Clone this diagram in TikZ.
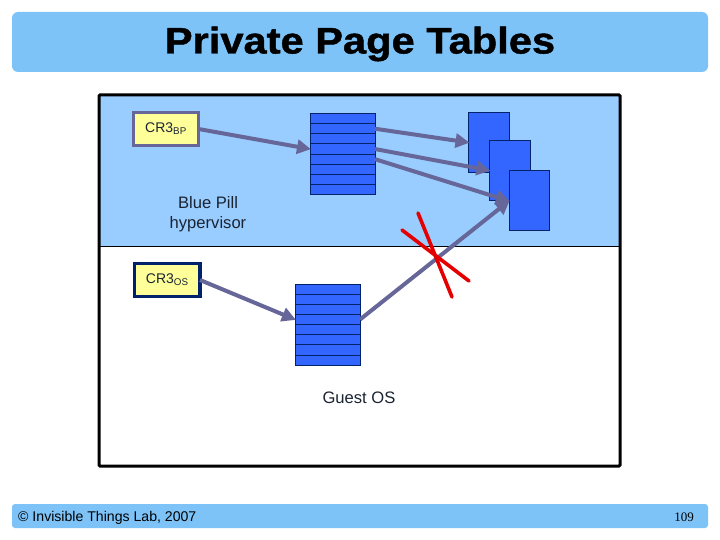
\documentclass[tikz,border=0pt]{standalone}
\usepackage{fontspec}
\setmainfont{Liberation Sans}
\newfontfamily\numfont{Liberation Serif}
\newfontfamily\titlefont[FakeStretch=1.125,FakeBold=1.2]{Liberation Sans}
\usetikzlibrary{arrows.meta}
\definecolor{barblue}{HTML}{7DC3F7}
\definecolor{bandblue}{HTML}{99CCFF}
\definecolor{tblue}{HTML}{3366FF}
\definecolor{navy}{HTML}{00226B}
\definecolor{arrowc}{HTML}{666699}
\definecolor{crfill}{HTML}{FFFF99}
\definecolor{inktext}{HTML}{1A2433}
\tikzset{
  x=1pt,y=-1pt,
  bar/.style={fill=barblue,draw=none,rounded corners=6pt},
  rowbox/.style={draw=navy,line width=0.9pt,fill=tblue,minimum width=65pt,minimum height=10.15pt,inner sep=0pt,outer sep=0pt,anchor=north west},
  pagebox/.style={draw=navy,line width=1pt,fill=tblue,minimum width=40.5pt,minimum height=60pt,inner sep=0pt,outer sep=0pt,anchor=north west},
  crbox/.style={fill=crfill,line width=3.4pt,minimum width=65pt,minimum height=33pt,inner sep=0pt,outer sep=0pt,anchor=north west,font=\fontsize{14}{16}\selectfont,text=inktext},
  link/.style={draw=arrowc,line width=4pt,-{Triangle[length=14pt,width=14pt]},shorten >=-1pt},
  cross/.style={draw=red!90!black,line width=3.6pt,line cap=round},
  lbl/.style={font=\fontsize{16.6}{20}\selectfont,text=inktext,align=center,inner sep=0pt},
}
\begin{document}
\begin{tikzpicture}
\useasboundingbox (0,0) rectangle (720,540);
\fill[white] (0,0) rectangle (720,540);
\node[bar,minimum width=696pt,minimum height=60pt,inner sep=0pt] (titlebar) at (360,42) {};
\node[font=\titlefont\bfseries\fontsize{37}{40}\selectfont,text=black,inner sep=0pt] (title) at (360,44) {Private Page Tables};
\node[bar,rounded corners=3pt,minimum width=696pt,minimum height=24pt,inner sep=0pt] (footbar) at (360,516) {};
\node[font=\fontsize{14.1}{16}\selectfont,text=black,anchor=west,inner sep=0pt] (copy) at (18,517.5) {© Invisible Things Lab, 2007};
\node[font=\numfont\fontsize{13}{16}\selectfont,text=black,inner sep=0pt] (pagenum) at (684,517) {109};
\fill[bandblue] (99,95) rectangle (620,246);
\draw[black,line width=1pt] (99,246) -- (620,246);
\draw[black,line width=3pt,rounded corners=1pt] (99,95) rectangle (620,466);
\foreach \i in {1,...,8} {
  \node[rowbox] (tA\i) at (310,{113.5+(\i-1)*10.15}) {};
  \node[rowbox] (tB\i) at (295,{284+(\i-1)*10.15}) {};
}
\node[pagebox] (pageA) at (468.5,112.5) {};
\node[pagebox] (pageB) at (489.5,140.5) {};
\node[pagebox] (pageC) at (509,171) {};
\node[crbox,draw=arrowc] (crbp) at (133.5,112.5) {CR3\textsubscript{BP}};
\node[crbox,draw=navy,minimum width=65.5pt] (cros) at (134.5,263.5) {CR3\textsubscript{OS}};
\node[lbl] (bluepill) at (208,214) {Blue Pill\\hypervisor};
\node[lbl] (guest) at (359,398) {Guest OS};
\draw[link] (crbp.east) -- (tA4.west);
\draw[link] (tA2.east) -- (pageA.west);
\draw[link] (tA4.east) -- (pageB.west);
\draw[link] (tA5.east) -- (pageC.west);
\draw[link] (cros.east) -- (tB4.west);
\draw[link] (tB4.east) -- (pageC.west);
\coordinate (xa) at (418,213);
\coordinate (xb) at (452,297);
\coordinate (xc) at (402,230);
\coordinate (xd) at (469,281);
\draw[cross] (xa) -- (xb);
\draw[cross] (xc) -- (xd);
\end{tikzpicture}
\end{document}
